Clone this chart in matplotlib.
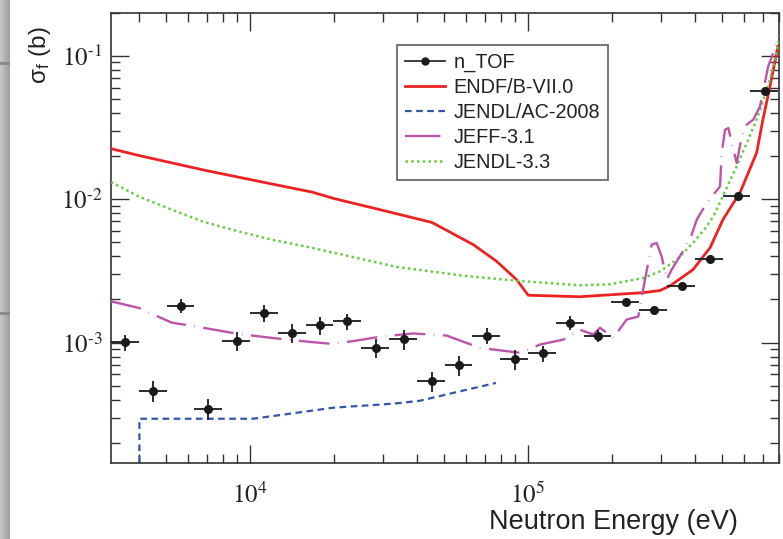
import numpy as np
import matplotlib
matplotlib.use("Agg")
import matplotlib.pyplot as plt
from matplotlib.ticker import LogLocator, FuncFormatter, NullFormatter
from matplotlib.lines import Line2D

plt.rcParams['mathtext.fontset'] = 'stix'
plt.rcParams['font.family'] = ['Liberation Sans', 'DejaVu Sans']

# n_TOF measured points (bin centres, bin edges, cross section, error)
ntof_energy = [3548, 4467, 5646, 7080, 8960, 11260, 14200, 17900, 22400, 28300,
               35800, 45100, 56600, 71400, 89800, 113000, 142000, 179000, 226000,
               285000, 359000, 452000, 570000, 713000]
ntof_edges = [3162, 3981, 5012, 6310, 7943, 10000, 12590, 15850, 19950, 25120,
              31620, 39810, 50120, 63100, 79430, 100000, 125900, 158500, 199500,
              251200, 316200, 398100, 501200, 631000, 794300]
ntof_sigma = [1.01e-3, 4.63e-4, 1.81e-3, 3.47e-4, 1.03e-3, 1.61e-3, 1.17e-3, 1.32e-3,
              1.41e-3, 9.18e-4, 1.06e-3, 5.37e-4, 6.95e-4, 1.12e-3, 7.65e-4, 8.43e-4,
              1.38e-3, 1.12e-3, 1.91e-3, 1.68e-3, 2.47e-3, 3.83e-3, 1.05e-2, 5.7e-2]
ntof_err = [1.3e-4, 7.4e-5, 2.0e-4, 5.6e-5, 1.5e-4, 2.1e-4, 1.7e-4, 1.9e-4, 1.8e-4,
            1.4e-4, 1.7e-4, 8.6e-5, 1.1e-4, 1.4e-4, 1.2e-4, 1.1e-4, 1.5e-4, 1.1e-4,
            1.2e-4, 1.1e-4, 1.2e-4, 1.8e-4, 3.4e-4, 1.8e-3]

# ENDF/B-VII.0
endf_energy = [3162, 3965, 6883, 11970, 16670, 20200, 29360, 45080, 63600, 77140,
               91000, 100200, 153800, 259200, 298600, 324400, 392500, 452000, 502700,
               579000, 665000, 700000, 742500, 793000]
endf_sigma = [0.0225, 0.0202, 0.0159, 0.01277, 0.01122, 0.01007, 0.00845, 0.00689,
              0.00482, 0.00369, 0.00275, 0.00214, 0.00209, 0.00223, 0.00231, 0.00249,
              0.00323, 0.00459, 0.0072, 0.0111, 0.0211, 0.0358, 0.0611, 0.116]

# JENDL/AC-2008
jac_energy = [4000, 4000, 10250, 13150, 19900, 23500, 29400, 34700, 40900, 56900, 76700]
jac_sigma = [1e-6, 2.95e-4, 2.95e-4, 3.15e-4, 3.52e-4, 3.6e-4, 3.7e-4, 3.8e-4,
             3.94e-4, 4.58e-4, 5.24e-4]

# JEFF-3.1
jeff_energy = [3162, 3965, 5224, 6340, 9076, 11970, 15780, 19800, 23870, 29360, 38620,
               51000, 67200, 93600, 110400, 133900, 153800, 171800, 181600, 202800,
               226500, 249400, 263600, 278700, 290400, 302700, 315600, 329000, 382800,
               404800, 439500, 490900, 497700, 511700, 526000, 541000, 563600, 587500,
               612500, 646000, 683500, 731700, 762500, 801700]
jeff_sigma = [0.00194, 0.00175, 0.00138, 0.00130, 0.00115, 0.00108, 0.00102, 0.00098,
              0.00103, 0.00110, 0.00116, 0.00112, 0.00092, 0.00085, 0.00097, 0.00105,
              0.00123, 0.00114, 0.00127, 0.00108, 0.00145, 0.00152, 0.00275, 0.00482,
              0.00495, 0.00399, 0.00275, 0.00323, 0.00522, 0.0072, 0.00941, 0.01228,
              0.0210, 0.0305, 0.0313, 0.0246, 0.01787, 0.0274, 0.0331, 0.0358, 0.0443,
              0.0842, 0.1044, 0.140]

# JENDL-3.3
j33_energy = [3162, 3965, 5224, 6883, 9076, 11970, 15780, 20200, 33740, 58480, 91000,
              153800, 197200, 259200, 298600, 342800, 392500, 439500, 464500, 563600,
              665000, 742500, 801700]
j33_sigma = [0.01318, 0.01047, 0.00846, 0.00690, 0.00597, 0.00522, 0.00469, 0.00422,
             0.00337, 0.00293, 0.00270, 0.00251, 0.00255, 0.00282, 0.00314, 0.00379,
             0.00495, 0.00646, 0.00759, 0.01694, 0.0358, 0.068, 0.129]

JEFF_DASH = (13, 3.6, 0.25, 3.6)

fig = plt.figure(figsize=(7.83, 5.39), dpi=100)

# grey strip on the left edge of the screenshot
strip = fig.add_axes([0, 0, 10 / 783, 1])
strip.imshow(np.linspace(0.78, 0.62, 20)[None, :], cmap='gray', vmin=0, vmax=1,
             aspect='auto', extent=[0, 1, 0, 1])
strip.axhline(1 - 63 / 539, color='#888888', lw=2)
strip.axhline(1 - 313 / 539, color='#888888', lw=2)
strip.axis('off')

ax = fig.add_axes([111 / 783, 76 / 539, 668 / 783, 450.5 / 539])
ax.set_xscale('log')
ax.set_yscale('log')
ax.set_xlim(3162, 8e5)
ax.set_ylim(1.45e-4, 0.2)

e = np.array(ntof_energy, dtype=float)
edges = np.array(ntof_edges, dtype=float)
xerr = [e - edges[:-1], edges[1:] - e]
ax.errorbar(ntof_energy, ntof_sigma, yerr=ntof_err, xerr=xerr, fmt='o', color='#1a1a1a',
            ms=5.5, elinewidth=1.3, capsize=0, zorder=5)

ax.plot(endf_energy, endf_sigma, '-', color='#ee2222', lw=2.0, zorder=3)
ax.plot(jac_energy, jac_sigma, color='#3355aa', lw=1.6, dashes=(3.0, 2.0), zorder=3)
ax.plot(jeff_energy, jeff_sigma, color='#bb55aa', lw=1.7, dashes=JEFF_DASH, zorder=4)
ax.plot(j33_energy, j33_sigma, color='#66cc44', lw=1.8, dashes=(1.0, 1.3), zorder=3)


def pow_label(v, pos):
    n = int(round(np.log10(v)))
    if n < 0:
        return r'$10^{\text{-}%d}$' % (-n)
    return r'$10^{%d}$' % n


# ticks
ax.xaxis.set_major_locator(LogLocator(base=10, numticks=10))
ax.xaxis.set_minor_locator(LogLocator(base=10, subs=np.arange(2, 10), numticks=20))
ax.yaxis.set_major_locator(LogLocator(base=10, numticks=10))
ax.yaxis.set_minor_locator(LogLocator(base=10, subs=np.arange(2, 10), numticks=20))
ax.xaxis.set_major_formatter(FuncFormatter(pow_label))
ax.yaxis.set_major_formatter(FuncFormatter(pow_label))
ax.xaxis.set_minor_formatter(NullFormatter())
ax.yaxis.set_minor_formatter(NullFormatter())
ax.tick_params(which='both', direction='in', top=True, right=True, color='#333333',
               width=1.0, labelsize=18, labelcolor='#222222')
ax.tick_params(which='major', length=13)
ax.tick_params(which='minor', length=6.5)
ax.tick_params(axis='x', which='major', pad=14)
ax.tick_params(axis='y', which='major', pad=6)
for s in ax.spines.values():
    s.set_color('#333333')
    s.set_linewidth(1.2)

fig.text(40 / 783, 1 - 55 / 539, 'σ$_\\mathregular{f}$ (b)', rotation=90, ha='center',
         va='center', fontsize=17.5, color='#222222')
fig.text(613 / 783, 1 - 522 / 539, 'Neutron Energy (eV)', ha='center', va='center',
         fontsize=19.5, color='#222222')

handles = [
    Line2D([], [], color='#1a1a1a', marker='o', ms=5, lw=1.2),
    Line2D([], [], color='#ee2222', lw=2.0),
    Line2D([], [], color='#3355aa', lw=1.6, dashes=(3.0, 2.0)),
    Line2D([], [], color='#bb55aa', lw=1.7, dashes=(15, 3.6, 0.5, 3.6)),
    Line2D([], [], color='#66cc44', lw=1.8, dashes=(1.0, 1.3)),
]
labels = ['n_TOF', 'ENDF/B-VII.0', 'JENDL/AC-2008', 'JEFF-3.1', 'JENDL-3.3']
leg = ax.legend(handles, labels, loc='upper left', bbox_to_anchor=(0.428, 0.928),
                borderaxespad=0, fontsize=14.3, frameon=True, fancybox=False,
                handlelength=2.0, handletextpad=0.45, labelspacing=0.3, borderpad=0.4)
leg.get_frame().set_edgecolor('#333333')
leg.get_frame().set_linewidth(1.2)
for t in leg.get_texts():
    t.set_color('#222222')

fig.savefig('out.png', dpi=100)
